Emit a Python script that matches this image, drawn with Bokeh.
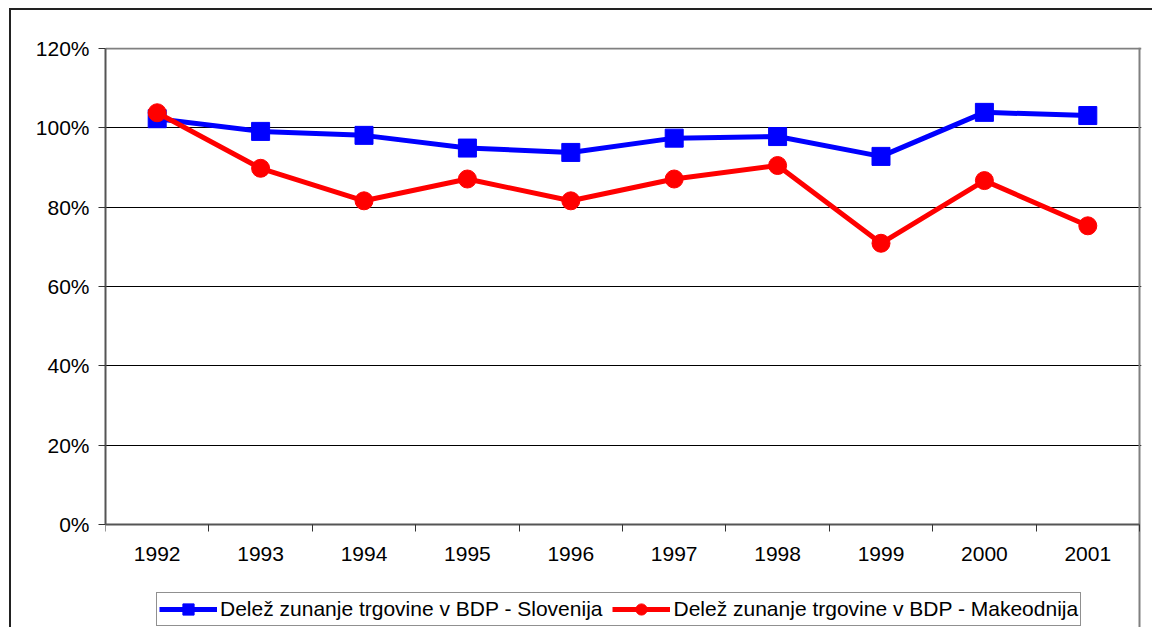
from bokeh.plotting import figure
from bokeh.models import (FixedTicker, PrintfTickFormatter, Legend, LegendItem,
                          Range1d, ColumnDataSource, Grid)
from bokeh.embed import file_html
from bokeh.resources import INLINE

years = ["1992", "1993", "1994", "1995", "1996", "1997", "1998", "1999", "2000", "2001"]
slovenija = [102.3, 99.1, 98.1, 94.9, 93.8, 97.4, 97.8, 92.8, 103.9, 103.1]
makedonija = [103.8, 89.8, 81.6, 87.1, 81.6, 87.1, 90.5, 70.9, 86.7, 75.3]
y_ticks = [0, 20, 40, 60, 80, 100, 120]
label_slo = "Delež zunanje trgovine v BDP - Slovenija"
label_mak = "Delež zunanje trgovine v BDP - Makeodnija"

FONT = "Liberation Sans"
FS = "21px"

n = len(years)
xpos = [i + 0.5 for i in range(n)]
src = ColumnDataSource(dict(x=xpos, slo=slovenija, mak=makedonija))

# pixel geometry of the plotting area (page px)
PX_PER_UNIT = 476 / 120.0           # y: 0% at 524, 120% at 48
y_start = -(629 - 524) / PX_PER_UNIT  # frame reaches down to the page bottom (legend area)
y_end = 120 + 1 / PX_PER_UNIT
x_end = n + 2 / 103.4

p = figure(width=1143, height=619, output_backend="svg", toolbar_location=None,
           x_range=Range1d(0, x_end), y_range=Range1d(y_start, y_end),
           min_border_left=94, min_border_top=37, min_border_right=13,
           min_border_bottom=0)
p.styles = {"border-left": "2px solid #222222", "border-top": "2px solid #222222",
            "margin-left": "9px", "margin-top": "8px"}

p.background_fill_color = "white"
p.border_fill_color = "white"
p.outline_line_color = None

# x axis, pinned at 0%
p.xaxis.fixed_location = 0
p.xaxis.bounds = (0, n)
p.xaxis.ticker = FixedTicker(ticks=xpos, minor_ticks=list(range(n + 1)))
p.xaxis.major_label_overrides = {x: y for x, y in zip(xpos, years)}
p.xaxis.major_tick_out = 0
p.xaxis.major_tick_in = 0
p.xaxis.minor_tick_out = 7
p.xaxis.minor_tick_in = 0
p.xaxis.minor_tick_line_color = "#333333"
p.xaxis.minor_tick_line_width = 1
p.xaxis.axis_line_color = "#555555"
p.xaxis.axis_line_width = 2
p.xaxis.major_label_text_font = FONT
p.xaxis.major_label_text_font_size = FS
p.xaxis.major_label_text_color = "black"
p.xaxis.major_label_standoff = 15
p.xgrid.visible = False

# y axis
p.yaxis.bounds = (0, 120)
p.yaxis.ticker = FixedTicker(ticks=y_ticks, minor_ticks=[])
p.yaxis.formatter = PrintfTickFormatter(format="%d%%")
p.yaxis.major_tick_out = 7
p.yaxis.major_tick_in = 0
p.yaxis.major_tick_line_color = "#333333"
p.yaxis.axis_line_color = "#555555"
p.yaxis.axis_line_width = 2
p.yaxis.major_label_text_font = FONT
p.yaxis.major_label_text_font_size = FS
p.yaxis.major_label_text_color = "black"
p.yaxis.major_label_standoff = 9
p.ygrid.ticker = FixedTicker(ticks=y_ticks[1:-1])
p.ygrid.grid_line_color = "black"
p.ygrid.grid_line_width = 1

# plot-area frame (top and right), gray
p.add_layout(Grid(dimension=1, ticker=FixedTicker(ticks=[120]), bounds=(0, n),
                  grid_line_color="#808080", grid_line_width=2))
p.add_layout(Grid(dimension=0, ticker=FixedTicker(ticks=[n]), bounds=(0, 120),
                  grid_line_color="#808080", grid_line_width=2))

# series
l1 = p.line("x", "slo", source=src, line_color="#0000FF", line_width=5)
m1 = p.scatter("x", "slo", source=src, marker="square", size=18,
               fill_color="#0000FF", line_color="#0000FF")
l2 = p.line("x", "mak", source=src, line_color="#FF0000", line_width=5)
m2 = p.scatter("x", "mak", source=src, marker="circle", size=18,
               fill_color="#FF0000", line_color="#FF0000")

legend = Legend(items=[LegendItem(label=label_slo, renderers=[l1, m1]),
                       LegendItem(label=label_mak, renderers=[l2, m2])],
                orientation="horizontal", location=(51, 3),
                glyph_width=58, glyph_height=28, label_standoff=3, spacing=10,
                padding=2, margin=0,
                label_text_font=FONT, label_text_font_size=FS,
                label_text_color="black",
                border_line_color="#222222", border_line_width=1,
                background_fill_color="white", background_fill_alpha=1)
p.add_layout(legend, "center")

open("out.html", "w").write(file_html(p, INLINE))
